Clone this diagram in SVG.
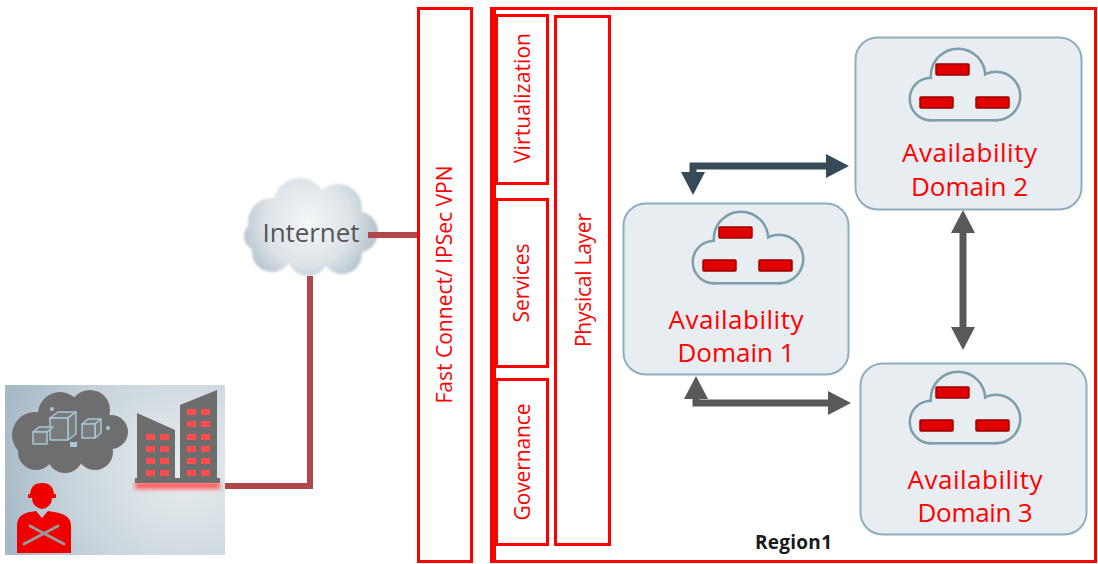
<svg xmlns="http://www.w3.org/2000/svg" xmlns:xlink="http://www.w3.org/1999/xlink" width="1098" height="564" viewBox="0 0 1098 564">
  <style>
    .frame { fill: #ffffff; stroke: #ff0000; stroke-width: 3; }
    .vlabel { font-family: "Open Sans", "Liberation Sans", sans-serif; font-size: 21px; fill: #ff0000; text-anchor: middle; }
    .ad-box { fill: #e7edf1; stroke: #8eaebd; stroke-width: 2; }
    .ad-label { font-family: "Open Sans", "Liberation Sans", sans-serif; font-size: 26px; fill: #ff0000; text-anchor: middle; }
    .link { fill: none; stroke: #b2474b; stroke-width: 6; }
    .arrow-dark { fill: none; stroke: #364a57; stroke-width: 7; }
    .arrow-gray { fill: none; stroke: #58595b; stroke-width: 7; }
    .bar { fill: #e00000; stroke: #9a0000; stroke-width: 1.5; }
    .win { fill: #ff4d4d; }
  </style>
  <defs>
    <marker id="headDark" markerUnits="userSpaceOnUse" viewBox="0 0 23 24" markerWidth="23" markerHeight="24" refX="0" refY="12" orient="auto-start-reverse">
      <path d="M0 0 L23 12 L0 24 Z" fill="#364a57"/>
    </marker>
    <marker id="headGray" markerUnits="userSpaceOnUse" viewBox="0 0 23 24" markerWidth="23" markerHeight="24" refX="0" refY="12" orient="auto-start-reverse">
      <path d="M0 0 L23 12 L0 24 Z" fill="#58595b"/>
    </marker>
    <radialGradient id="inetGrad" gradientUnits="userSpaceOnUse" cx="308" cy="222" r="80">
      <stop offset="0" stop-color="#f5f7f8"/>
      <stop offset="0.55" stop-color="#dce3e8"/>
      <stop offset="1" stop-color="#a3b3be"/>
    </radialGradient>
    <radialGradient id="siteGrad" gradientUnits="userSpaceOnUse" cx="185" cy="470" r="190">
      <stop offset="0" stop-color="#e8edf0"/>
      <stop offset="0.6" stop-color="#c9d5dc"/>
      <stop offset="1" stop-color="#a6b9c6"/>
    </radialGradient>
    <filter id="soft" x="-10%" y="-10%" width="120%" height="120%">
      <feGaussianBlur stdDeviation="0.8"/>
    </filter>
    <filter id="glow" x="-20%" y="-100%" width="140%" height="300%">
      <feGaussianBlur stdDeviation="2"/>
    </filter>
    <!-- cloud icon used inside the availability domain cards -->
    <g id="adCloud">
      <g fill="#e7edf1" stroke="#7d9eab" stroke-width="5">
        <circle cx="21" cy="50" r="20"/>
        <circle cx="48" cy="27" r="26"/>
        <circle cx="86" cy="47" r="23"/>
        <rect x="21" y="40" width="65" height="30"/>
      </g>
      <g fill="#e7edf1">
        <circle cx="21" cy="50" r="20"/>
        <circle cx="48" cy="27" r="26"/>
        <circle cx="86" cy="47" r="23"/>
        <rect x="21" y="40" width="65" height="30"/>
      </g>
      <rect class="bar" x="26" y="15" width="33" height="11" rx="1"/>
      <rect class="bar" x="10" y="48" width="33" height="11" rx="1"/>
      <rect class="bar" x="66" y="48" width="33" height="11" rx="1"/>
    </g>
  </defs>

  <rect width="1098" height="564" fill="#ffffff"/>

  <!-- customer site -->
  <g id="node-site">
    <rect x="5" y="385" width="220" height="170" fill="url(#siteGrad)"/>
    <!-- private cloud -->
    <g fill="#6e6e6e">
      <circle cx="35" cy="435" r="23"/>
      <circle cx="60" cy="414" r="22"/>
      <circle cx="90" cy="410" r="20"/>
      <circle cx="111" cy="432" r="17"/>
      <circle cx="95" cy="452" r="18"/>
      <circle cx="65" cy="455" r="18"/>
      <circle cx="36" cy="452" r="18"/>
      <rect x="35" y="420" width="75" height="35"/>
    </g>
    <g fill="#7b7b7b" stroke="#a7c7d9" stroke-width="1.5" stroke-linejoin="round">
      <path d="M50 418 L58 412 L76 412 L68 418 Z"/>
      <path d="M68 418 L76 412 L76 434 L68 440 Z"/>
      <rect x="50" y="418" width="18" height="22"/>
      <path d="M33 432 L39 427 L53 427 L47 432 Z"/>
      <rect x="33" y="432" width="14" height="12"/>
      <path d="M82 424 L88 419 L101 419 L95 424 Z"/>
      <path d="M95 424 L101 419 L101 433 L95 438 Z"/>
      <rect x="82" y="424" width="13" height="14"/>
    </g>
    <g fill="#a7c7d9">
      <circle cx="52" cy="409" r="2"/>
      <circle cx="108" cy="428" r="2"/>
      <rect x="70" y="442" width="7" height="5"/>
    </g>
    <!-- office building -->
    <rect x="135" y="482" width="85" height="7" fill="#ff5a5a" filter="url(#glow)"/>
    <path d="M137 413 L175 430 L175 480 L137 480 Z" fill="#6d6d6d"/>
    <path d="M180 405 L217 390 L217 480 L180 480 Z" fill="#6d6d6d"/>
    <rect x="135" y="478" width="85" height="5" fill="#6d6d6d"/>
    <g class="win">
      <rect x="146" y="434" width="9" height="6"/><rect x="160" y="434" width="9" height="6"/>
      <rect x="146" y="446" width="9" height="6"/><rect x="160" y="446" width="9" height="6"/>
      <rect x="146" y="458" width="9" height="6"/><rect x="160" y="458" width="9" height="6"/>
      <rect x="146" y="470" width="9" height="6"/><rect x="160" y="470" width="9" height="6"/>
      <rect x="187" y="409" width="9" height="6"/><rect x="201" y="409" width="9" height="6"/>
      <rect x="187" y="421" width="9" height="6"/><rect x="201" y="421" width="9" height="6"/>
      <rect x="187" y="434" width="9" height="6"/><rect x="201" y="434" width="9" height="6"/>
      <rect x="187" y="446" width="9" height="6"/><rect x="201" y="446" width="9" height="6"/>
      <rect x="187" y="458" width="9" height="6"/><rect x="201" y="458" width="9" height="6"/>
      <rect x="187" y="470" width="9" height="6"/><rect x="201" y="470" width="9" height="6"/>
    </g>
    <!-- engineer with hard hat and crossed wrenches -->
    <g fill="#ee0000">
      <path d="M32 498 Q32 507 42 509 Q52 507 52 498 Z"/>
      <path d="M30 496 Q30 483 42 483 Q54 483 54 496 Z"/>
      <rect x="28" y="494" width="28" height="4" rx="1"/>
      <path d="M17 553 L17 526 Q17 514 30 512 L36 511 L42 518 L48 511 L54 512 Q71 514 71 526 L71 553 Z"/>
    </g>
    <g fill="none" stroke="#9a9a9a" stroke-width="3" stroke-linecap="round">
      <path d="M24 544 L58 526"/>
      <path d="M30 526 L64 544"/>
    </g>
  </g>

  <!-- internet -->
  <g id="node-internet">
    <g fill="url(#inetGrad)" filter="url(#soft)">
      <circle cx="272" cy="222" r="24"/>
      <circle cx="300" cy="205" r="27"/>
      <circle cx="338" cy="208" r="24"/>
      <circle cx="357" cy="232" r="21"/>
      <circle cx="342" cy="254" r="20"/>
      <circle cx="308" cy="256" r="20"/>
      <circle cx="272" cy="252" r="20"/>
      <circle cx="259" cy="236" r="15"/>
      <circle cx="310" cy="232" r="38"/>
    </g>
    <text x="311" y="242" font-family="'Open Sans', 'Liberation Sans', sans-serif" font-size="26" fill="#555555" text-anchor="middle" textLength="97">Internet</text>
  </g>

  <!-- Fast Connect / VPN edge -->
  <g id="node-fastconnect">
    <rect class="frame" x="418.5" y="8.5" width="53" height="553"/>
    <text class="vlabel" transform="translate(452,284.5) rotate(-90)" textLength="238">Fast Connect/ IPSec VPN</text>
  </g>

  <!-- region -->
  <g id="node-region">
    <rect class="frame" x="491.5" y="8.5" width="604" height="553"/>
    <rect x="490" y="8" width="6" height="555" fill="#ff0000"/>
    <text x="755" y="549" font-family="'Open Sans', 'Liberation Sans', sans-serif" font-size="19" font-weight="bold" fill="#1a1a1a" textLength="77">Region1</text>
  </g>

  <g id="node-virtualization">
    <rect class="frame" x="496.5" y="15.5" width="51" height="168"/>
    <text class="vlabel" transform="translate(530,98) rotate(-90)" textLength="130">Virtualization</text>
  </g>
  <g id="node-services">
    <rect class="frame" x="496.5" y="199.5" width="51" height="167"/>
    <text class="vlabel" transform="translate(529,283) rotate(-90)" textLength="79">Services</text>
  </g>
  <g id="node-governance">
    <rect class="frame" x="496.5" y="379.5" width="51" height="165"/>
    <text class="vlabel" transform="translate(530,462) rotate(-90)" textLength="117">Governance</text>
  </g>
  <g id="node-physical">
    <rect class="frame" x="555.5" y="16.5" width="54" height="528"/>
    <text class="vlabel" transform="translate(591,280) rotate(-90)" textLength="134">Physical Layer</text>
  </g>

  <!-- availability domains -->
  <g id="node-ad1">
    <rect class="ad-box" x="623.5" y="203.5" width="225" height="171" rx="22"/>
    <use xlink:href="#adCloud" x="693" y="212"/>
    <text class="ad-label" x="736" y="329" textLength="135">Availability</text>
    <text class="ad-label" x="736" y="362" textLength="117">Domain 1</text>
  </g>
  <g id="node-ad2">
    <rect class="ad-box" x="855.5" y="37.5" width="226" height="172" rx="22"/>
    <use xlink:href="#adCloud" x="910" y="49"/>
    <text class="ad-label" x="969.5" y="162" textLength="135">Availability</text>
    <text class="ad-label" x="969.5" y="196" textLength="117">Domain 2</text>
  </g>
  <g id="node-ad3">
    <rect class="ad-box" x="860.5" y="363.5" width="226" height="171" rx="22"/>
    <use xlink:href="#adCloud" x="910" y="372"/>
    <text class="ad-label" x="975" y="489" textLength="135">Availability</text>
    <text class="ad-label" x="975" y="522" textLength="115">Domain 3</text>
  </g>

  <!-- connectors, drawn last so the region frame does not cover them -->
  <g id="connectors">
    <path class="link" d="M368 235 H417"/>
    <path class="link" d="M310 276 V486 H225"/>
    <path class="arrow-dark" d="M693 172 V166 H826" marker-start="url(#headDark)" marker-end="url(#headDark)"/>
    <path class="arrow-gray" d="M696 399 V403 H828" marker-start="url(#headGray)" marker-end="url(#headGray)"/>
    <path class="arrow-gray" d="M963 233 V327" marker-start="url(#headGray)" marker-end="url(#headGray)"/>
  </g>
</svg>
